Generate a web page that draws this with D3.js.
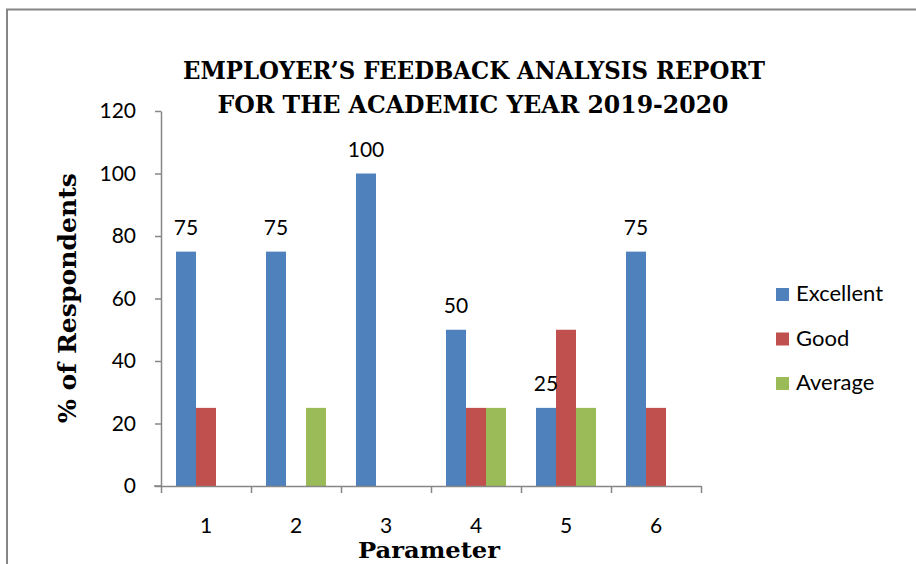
<!DOCTYPE html>
<html>
<head>
<meta charset="utf-8">
<script src="https://cdn.jsdelivr.net/npm/d3@7"></script>
<style>
  html, body { margin: 0; padding: 0; background: #ffffff; }
  svg { display: block; }
</style>
</head>
<body>
<svg id="chart" width="916" height="564"></svg>
<script>
const categories = ["1", "2", "3", "4", "5", "6"];
const seriesNames = ["Excellent", "Good", "Average"];
const excellent = [75, 75, 100, 50, 25, 75];
const good = [25, 0, 0, 25, 50, 25];
const average = [0, 25, 0, 25, 25, 0];
const yTicks = [0, 20, 40, 60, 80, 100, 120];
const titleLines = ["EMPLOYER\u2019S FEEDBACK ANALYSIS REPORT", "FOR THE ACADEMIC YEAR 2019-2020"];
const yTitle = "% of Respondents";
const xTitle = "Parameter";

const colors = ["#4F81BD", "#C0504D", "#9BBB59"];
const seriesValues = [excellent, good, average];

const svg = d3.select("#chart");
const labelFont = "Lato, 'Open Sans', sans-serif";
const titleFont = "'DejaVu Serif', 'Liberation Serif', serif";
const axisColor = "#868686";

// outer frame
svg.append("rect")
  .attr("x", 7).attr("y", 9.5)
  .attr("width", 940).attr("height", 600)
  .attr("fill", "none").attr("stroke", axisColor).attr("stroke-width", 2);

const x = d3.scaleBand().domain(categories).range([161, 701]).padding(0);
const bw = x.bandwidth();
const xInner = d3.scaleBand().domain(seriesNames).range([bw / 6, bw * 5 / 6]).padding(0);
const y = d3.scaleLinear().domain([0, 120]).range([486, 111]);

// bars
const data = [];
categories.forEach((c, i) => {
  seriesNames.forEach((s, j) => {
    data.push({ cat: c, series: s, value: seriesValues[j][i], color: colors[j] });
  });
});

svg.append("g").selectAll("rect")
  .data(data.filter(d => d.value > 0))
  .join("rect")
  .attr("x", d => x(d.cat) + xInner(d.series))
  .attr("y", d => y(d.value))
  .attr("width", xInner.bandwidth())
  .attr("height", d => y(0) - y(d.value))
  .attr("fill", d => d.color);

// data labels on Excellent
svg.append("g").selectAll("text")
  .data(categories.map((c, i) => ({ cat: c, value: excellent[i] })))
  .join("text")
  .attr("x", d => x(d.cat) + xInner("Excellent") + xInner.bandwidth() / 2)
  .attr("y", d => y(d.value) - 17)
  .attr("text-anchor", "middle")
  .attr("font-family", labelFont)
  .attr("font-size", 21)
  .attr("fill", "#000")
  .text(d => d.value);

// y axis
const yAxis = svg.append("g")
  .attr("transform", "translate(161,0)")
  .call(d3.axisLeft(y).tickValues(yTicks).tickSize(6).tickSizeOuter(0).tickPadding(19));
yAxis.select(".domain").attr("stroke", axisColor).attr("stroke-width", 1.5);
yAxis.selectAll(".tick line").attr("stroke", axisColor).attr("stroke-width", 1.5);
yAxis.selectAll(".tick text")
  .attr("font-family", labelFont).attr("font-size", 21).attr("fill", "#000");

// x axis: boundary ticks
const xb = d3.scaleLinear().domain([0, categories.length]).range([161, 701]);
const xAxisTicks = svg.append("g")
  .attr("transform", "translate(0,486)")
  .call(d3.axisBottom(xb).tickValues(d3.range(0, categories.length + 1)).tickSize(7).tickSizeOuter(0).tickFormat(""));
xAxisTicks.select(".domain").attr("stroke", axisColor).attr("stroke-width", 1.5);
xAxisTicks.selectAll(".tick line").attr("stroke", axisColor).attr("stroke-width", 1.5);
xAxisTicks.append("line").attr("x1", 154).attr("x2", 161).attr("y1", 0).attr("y2", 0)
  .attr("stroke", axisColor).attr("stroke-width", 1.5);

// x axis labels
const xAxisLabels = svg.append("g")
  .attr("transform", "translate(0,486)")
  .call(d3.axisBottom(x).tickSize(0).tickPadding(0));
xAxisLabels.select(".domain").remove();
xAxisLabels.selectAll(".tick text")
  .attr("y", 47).attr("dy", 0)
  .attr("font-family", labelFont).attr("font-size", 21).attr("fill", "#000");

// title
svg.append("g").selectAll("text")
  .data([
    { t: titleLines[0], x: 474, y: 79, w: 582 },
    { t: titleLines[1], x: 473, y: 113, w: 511 }
  ])
  .join("text")
  .attr("x", d => d.x).attr("y", d => d.y)
  .attr("text-anchor", "middle")
  .attr("font-family", titleFont)
  .attr("font-weight", "bold")
  .attr("font-size", 25)
  .attr("textLength", d => d.w)
  .attr("lengthAdjust", "spacingAndGlyphs")
  .text(d => d.t);

// y title
svg.append("text")
  .attr("transform", "translate(76,298) rotate(-90)")
  .attr("text-anchor", "middle")
  .attr("font-family", titleFont)
  .attr("font-weight", "bold")
  .attr("font-size", 24)
  .attr("textLength", 250)
  .attr("lengthAdjust", "spacingAndGlyphs")
  .text(yTitle);

// x title
svg.append("text")
  .attr("x", 429).attr("y", 558)
  .attr("text-anchor", "middle")
  .attr("font-family", titleFont)
  .attr("font-weight", "bold")
  .attr("font-size", 22)
  .attr("textLength", 142)
  .attr("lengthAdjust", "spacingAndGlyphs")
  .text(xTitle);

// legend
const legend = svg.append("g").selectAll("g")
  .data(seriesNames.map((s, i) => ({ name: s, color: colors[i] })))
  .join("g")
  .attr("transform", (d, i) => `translate(776,${288 + i * 44.5})`);
legend.append("rect").attr("width", 13).attr("height", 13).attr("fill", d => d.color);
legend.append("text")
  .attr("x", 20).attr("y", 13)
  .attr("font-family", labelFont).attr("font-size", 22).attr("fill", "#000")
  .text(d => d.name);
</script>
</body>
</html>
